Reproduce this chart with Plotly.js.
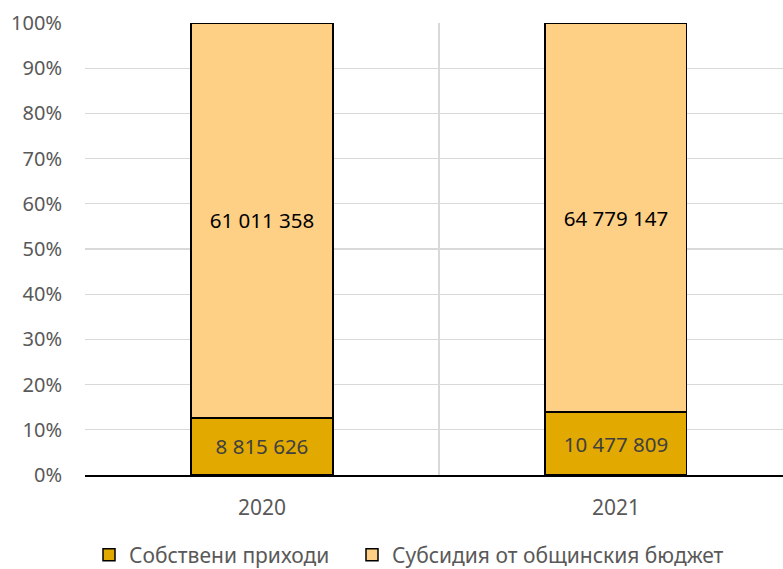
<!DOCTYPE html>
<html>
<head>
<meta charset="utf-8">
<script src="https://cdn.plot.ly/plotly-3.0.1.min.js"></script>
<style>html,body{margin:0;padding:0;background:#fff;}#chart{width:783px;height:569px;}</style>
</head>
<body>
<div id="chart"></div>
<script>
const years = ["2020", "2021"];
const ownRevenue = [8815626, 10477809];
const subsidy = [61011358, 64779147];
const seriesNames = ["Собствени приходи", "Субсидия от общинския бюджет"];

function fmt(v) {
  return String(v).replace(/\B(?=(\d{3})+(?!\d))/g, " ");
}

const FONT = "Noto Sans, Open Sans, sans-serif";

const traces = [
  {
    type: "bar",
    name: seriesNames[0],
    legend: "legend",
    x: years,
    y: ownRevenue,
    text: ownRevenue.map(fmt),
    textposition: "inside",
    insidetextanchor: "middle",
    textangle: 0,
    constraintext: "none",
    insidetextfont: {family: FONT, size: 20.5, color: "#404040"},
    marker: {color: "#E2AA00", line: {color: "#000000", width: 1.5}},
    width: 0.4,
    hoverinfo: "skip"
  },
  {
    type: "bar",
    name: seriesNames[1],
    legend: "legend2",
    x: years,
    y: subsidy,
    text: subsidy.map(fmt),
    textposition: "inside",
    insidetextanchor: "middle",
    textangle: 0,
    constraintext: "none",
    insidetextfont: {family: FONT, size: 20.5, color: "#000000"},
    marker: {color: "#FED085", line: {color: "#000000", width: 1.5}},
    width: 0.4,
    hoverinfo: "skip"
  }
];

const legendBase = {
  orientation: "h",
  xref: "container", yref: "container",
  xanchor: "left", yanchor: "middle",
  y: 0.0246,
  font: {family: FONT, size: 21, color: "#595959"},
  itemwidth: 30,
  bgcolor: "rgba(0,0,0,0)"
};

const layout = {
  width: 783,
  height: 569,
  margin: {l: 85, r: 0, t: 23, b: 93.5, pad: 0},
  paper_bgcolor: "#ffffff",
  plot_bgcolor: "#ffffff",
  barmode: "stack",
  barnorm: "percent",
  font: {family: FONT, color: "#595959", size: 20},
  showlegend: true,
  legend: Object.assign({}, legendBase, {x: 89 / 783}),
  legend2: Object.assign({}, legendBase, {x: 352 / 783}),
  xaxis: {
    type: "category",
    range: [-0.5, 1.472],
    tickson: "boundaries",
    ticks: "",
    showgrid: true,
    gridcolor: "#d9d9d9",
    gridwidth: 1.3,
    showline: true,
    linecolor: "#000000",
    linewidth: 1.5,
    zeroline: false,
    tickfont: {family: FONT, size: 21, color: "#595959"},
    ticklabelstandoff: 13,
    fixedrange: true
  },
  yaxis: {
    range: [0, 100],
    dtick: 10,
    tick0: 0,
    ticksuffix: "%",
    showgrid: true,
    gridcolor: "#d9d9d9",
    gridwidth: 1.3,
    zeroline: false,
    showline: false,
    ticks: "",
    tickfont: {family: FONT, size: 20, color: "#595959"},
    ticklabelstandoff: 22,
    fixedrange: true
  }
};

Plotly.newPlot("chart", traces, layout, {displayModeBar: false, staticPlot: true});
</script>
</body>
</html>
